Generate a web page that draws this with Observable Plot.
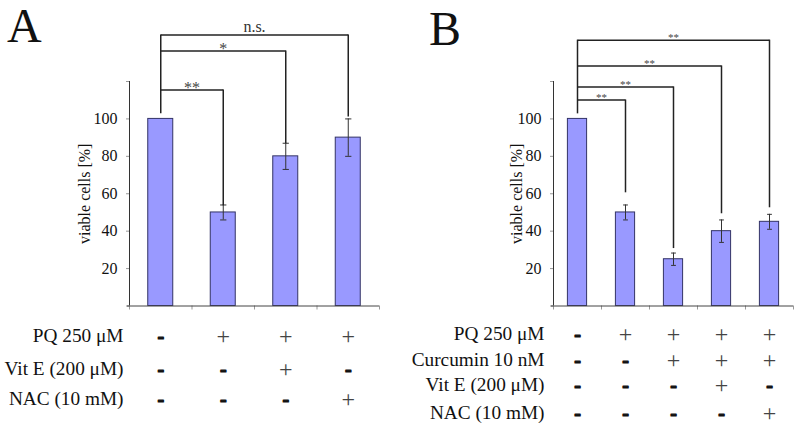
<!DOCTYPE html>
<html>
<head>
<meta charset="utf-8">
<script src="https://cdn.jsdelivr.net/npm/d3@7"></script>
<script src="https://cdn.jsdelivr.net/npm/@observablehq/plot@0.6"></script>
<style>
  body { margin: 0; background: white; }
  #wrap { position: relative; width: 800px; height: 431px; overflow: hidden; background: white; }
  .panel { position: absolute; top: 0; }
  #wrap svg, #wrap svg text, #wrap svg g { font-family: "Liberation Serif", "Times New Roman", serif !important; }
  .letter { position: absolute; z-index: 5; font-family: "Liberation Serif", serif; font-size: 48px; line-height: 48px; color: #111; }
</style>
</head>
<body>
<div id="wrap">
  <div class="panel" id="pa" style="left:0px;"></div>
  <div class="panel" id="pb" style="left:400px;"></div>
  <div class="letter" style="left:7px; top:2px;">A</div>
  <div class="letter" style="left:429px; top:5px;">B</div>
</div>
<script>
// ---------- Data ----------
// Panel A
const valuesA = [100, 50, 80, 90];
const errorsA = [0, 4, 7, 10];
const rowLabelsA = ["PQ 250 μM", "Vit E (200 μM)", "NAC (10 mM)"];
const treatA = [
  ["-", "+", "+", "+"],
  ["-", "-", "+", "-"],
  ["-", "-", "-", "+"]
];
const sigTargetsA = [1, 2, 3];
const sigLevelsA = [115.5, 136.3, 144.8];
const sigEndsA = [53.6, 86.7, 101];
const sigLabelsA = ["**", "*", "n.s."];

// Panel B
const valuesB = [100, 50, 25, 40, 45];
const errorsB = [0, 4, 3.3, 6, 4];
const rowLabelsB = ["PQ 250 μM", "Curcumin 10 nM", "Vit E (200 μM)", "NAC (10 mM)"];
const treatB = [
  ["-", "+", "+", "+", "+"],
  ["-", "-", "+", "+", "+"],
  ["-", "-", "-", "+", "-"],
  ["-", "-", "-", "-", "+"]
];
const sigTargetsB = [1, 2, 3, 4];
const sigLevelsB = [110.1, 117.1, 128.3, 142.1];
const sigEndsB = [60.5, 30.7, 49.3, 52.5];
const sigLabelsB = ["**", "**", "**", "**"];

const stemBottom = 102.7;
const yTicks = [0, 20, 40, 60, 80, 100, 120];
const yLabeled = [20, 40, 60, 80, 100];
const yLabel = "viable cells [%]";

const SERIF = "'Liberation Serif', serif";

// ---------- Drawing ----------
function panel(opts) {
  const {values, errors, rowLabels, treat, sigTargets, sigLevels, sigEnds, sigLabels,
         marginLeft, marginRight, labelOffset, rowOffsets, rowLabelDx, sigFont, sigDy, nsDy} = opts;
  const n = values.length;
  const bars = values.map((v, i) => ({i, v, e: errors[i]}));
  const errs = bars.filter(d => d.e > 0);
  const caps = errs.flatMap(d => [{i: d.i, y: d.v - d.e}, {i: d.i, y: d.v + d.e}]);
  const sig = sigTargets.map((t, k) => ({t, y: sigLevels[k], end: sigEnds[k], label: sigLabels[k]}));
  const stemTop = d3.max(sigLevels);

  const marks = [
    Plot.rectY(bars, {x1: d => d.i + 0.3, x2: d => d.i + 0.7, y: "v", fill: "#9999ff", stroke: "#333366", strokeWidth: 1}),
    Plot.ruleX(errs, {x: d => d.i + 0.5, y1: d => d.v - d.e, y2: d => d.v + d.e, stroke: "#333", strokeWidth: 1}),
    Plot.link(caps, {x1: d => d.i + 0.45, x2: d => d.i + 0.55, y1: "y", y2: "y", stroke: "#333", strokeWidth: 1}),
    Plot.axisY({ticks: yTicks, tickFormat: d => yLabeled.includes(d) ? d : "", tickSize: 3, tickPadding: 9,
      stroke: "#999", fill: "#111", fontSize: 16, fontFamily: SERIF, label: yLabel, labelAnchor: "center", labelOffset, labelArrow: "none"}),
    Plot.axisX({ticks: d3.range(n + 1), tickFormat: () => "", tickSize: 4, stroke: "#999", label: null}),
    Plot.ruleX([0], {stroke: "#333", strokeWidth: 1}),
    Plot.ruleY([0], {stroke: "#444", strokeWidth: 1, insetLeft: -2}),
    // significance brackets
    Plot.ruleX([0], {x: () => 0.5, y1: () => stemBottom, y2: () => stemTop, stroke: "#222", strokeWidth: 1.5}),
    Plot.link(sig, {x1: () => 0.5, x2: d => d.t + 0.5, y1: "y", y2: "y", stroke: "#222", strokeWidth: 1.5}),
    Plot.ruleX(sig, {x: d => d.t + 0.5, y1: "y", y2: "end", stroke: "#222", strokeWidth: 1.5}),
    Plot.text(sig.filter(d => d.label !== "n.s."), {x: d => (d.t + 1) / 2, y: "y", text: "label", lineAnchor: "bottom",
      dy: sigDy, fontSize: sigFont, fill: "#444", fontFamily: SERIF}),
    Plot.text(sig.filter(d => d.label === "n.s."), {x: d => (d.t + 1) / 2, y: "y", text: "label", lineAnchor: "bottom",
      dy: nsDy, fontSize: sigFont, fill: "#333", fontFamily: SERIF})
  ];

  rowLabels.forEach((lab, r) => {
    const cells = treat[r].map((s, i) => ({i, s}));
    marks.push(
      Plot.text([lab], {frameAnchor: "bottom-left", text: d => d, textAnchor: "end", lineAnchor: "middle",
        dx: rowLabelDx, dy: rowOffsets[r], fontSize: 19.3, fill: "#111", fontFamily: SERIF}),
      Plot.text(cells.filter(d => d.s === "+"), {x: d => d.i + 0.5, frameAnchor: "bottom", text: "s", lineAnchor: "middle",
        dy: rowOffsets[r] + 1, fontSize: 24, fill: "#444", fontFamily: SERIF}),
      Plot.text(cells.filter(d => d.s === "-"), {x: d => d.i + 0.5, frameAnchor: "bottom", text: "s", lineAnchor: "middle",
        dy: rowOffsets[r] + 1, fontSize: 20, fill: "#111", stroke: "#111", strokeWidth: 1.2, fontWeight: "bold", fontFamily: SERIF})
    );
  });

  return Plot.plot({
    width: 400,
    height: 431,
    marginLeft,
    marginRight,
    marginTop: 81,
    marginBottom: 125.5,
    x: {type: "linear", domain: [0, n], axis: null},
    y: {domain: [0, 120], axis: null},
    style: {fontSize: "16px", color: "#111", background: "white", overflow: "visible"},
    marks
  });
}

document.getElementById("pa").append(panel({
  values: valuesA, errors: errorsA, rowLabels: rowLabelsA, treat: treatA,
  sigTargets: sigTargetsA, sigLevels: sigLevelsA, sigEnds: sigEndsA, sigLabels: sigLabelsA,
  marginLeft: 129, marginRight: 21, labelOffset: 51, rowOffsets: [29.5, 62.5, 92.5], rowLabelDx: -6,
  sigFont: 16, sigDy: 3, nsDy: -3
}));
document.getElementById("pb").append(panel({
  values: valuesB, errors: errorsB, rowLabels: rowLabelsB, treat: treatB,
  sigTargets: sigTargetsB, sigLevels: sigLevelsB, sigEnds: sigEndsB, sigLabels: sigLabelsB,
  marginLeft: 153, marginRight: 7, labelOffset: 43, rowOffsets: [27.5, 53.5, 78.5, 106.5], rowLabelDx: -9,
  sigFont: 11, sigDy: 1, nsDy: -3
}));
</script>
</body>
</html>
